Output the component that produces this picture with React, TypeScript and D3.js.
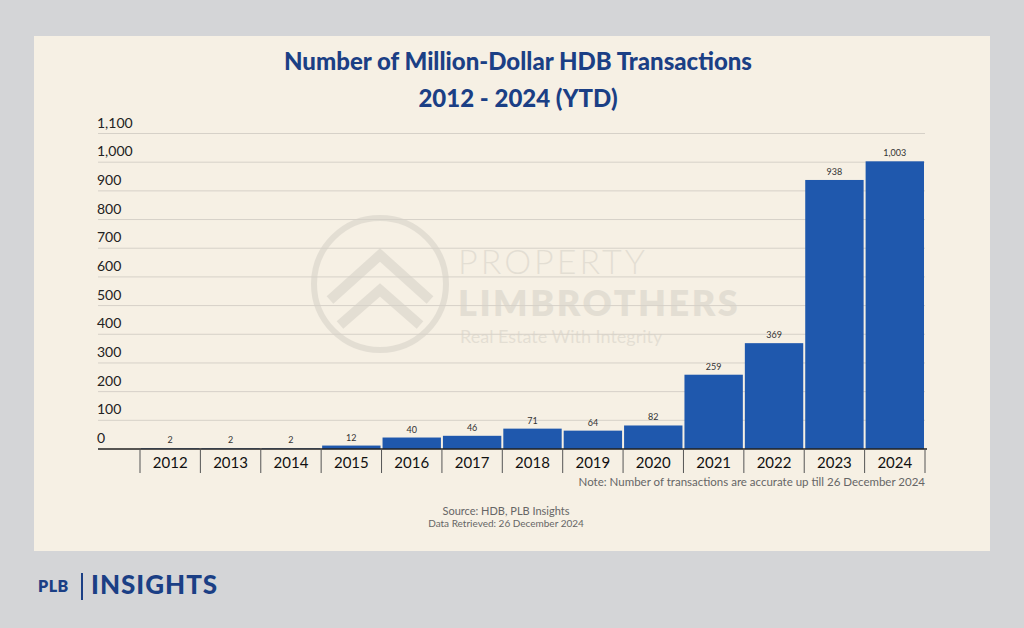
import React from "react";
import * as d3 from "d3";

const years = ["2012","2013","2014","2015","2016","2017","2018","2019","2020","2021","2022","2023","2024"];
const counts = [2,2,2,12,40,46,71,64,82,259,369,938,1003];
const yTicks = [0,100,200,300,400,500,600,700,800,900,1000,1100];

const W = 1024, H = 628;
const NAVY = "#1b3f85";
const BLUE = "#1f58ad";

export default function App() {
  const x = d3.scaleBand<string>().domain(years).range([140, 925]).paddingInner(0);
  const y = d3.scaleLinear().domain([0, 1100]).range([449, 133.5]);
  const fmt = d3.format(",");
  const font = "'Lato', 'Open Sans', sans-serif";
  return (
    <svg width={W} height={H} style={{ position: "absolute", left: 0, top: 0, display: "block" }}>
      <rect x={0} y={0} width={W} height={H} fill="#d4d5d7" />
      <rect x={34} y={36} width={956} height={515} fill="#f6f0e4" />
      {/* watermark */}
      <g opacity={0.11} fill="none" stroke="#555">
        <circle cx={380} cy={284} r={66} strokeWidth={6} />
        <path d={`M330,300 L380,255 L430,300`} strokeWidth={10} />
        <path d={`M340,325 L380,290 L420,325`} strokeWidth={10} />
      </g>
      <g opacity={0.11} fill="#555" fontFamily={font}>
        <text x={458} y={274} fontSize={34} fontWeight={300} letterSpacing={3}>PROPERTY</text>
        <text x={458} y={316} fontSize={36} fontWeight={800} letterSpacing={2.5}>LIMBROTHERS</text>
        <text x={460} y={343} fontSize={18}>Real Estate With Integrity</text>
      </g>
      {/* title */}
      <text x={518} y={70} textAnchor="middle" fontFamily={font} fontWeight={900} fontSize={24} fill={NAVY}>Number of Million-Dollar HDB Transactions</text>
      <text x={518} y={107} textAnchor="middle" fontFamily={font} fontWeight={900} fontSize={24} fill={NAVY}>2012 - 2024 (YTD)</text>
      {/* gridlines and y labels */}
      {yTicks.map(t => (
        <g key={t}>
          {t > 0 && <line x1={98} x2={925} y1={y(t)} y2={y(t)} stroke="#d6d1c8" strokeWidth={1} />}
          <text x={97} y={y(t) - 6} fontFamily={font} fontSize={14} fill="#222">{fmt(t)}</text>
        </g>
      ))}
      {/* bars */}
      {years.map((yr, i) => (
        <g key={yr}>
          <rect x={(x(yr) as number) + 1} y={y(counts[i])} width={x.bandwidth() - 2} height={449 - y(counts[i])} fill={BLUE} />
          <text x={(x(yr) as number) + x.bandwidth() / 2} y={y(counts[i]) - 5} textAnchor="middle" fontFamily={font} fontSize={9} fill="#333">{fmt(counts[i])}</text>
        </g>
      ))}
      {/* x axis */}
      <line x1={98} x2={927} y1={449} y2={449} stroke="#222" strokeWidth={1.5} />
      {years.map(yr => (
        <line key={"t" + yr} x1={x(yr) as number} x2={x(yr) as number} y1={449} y2={473} stroke="#555" strokeWidth={1} />
      ))}
      <line x1={925} x2={925} y1={449} y2={473} stroke="#555" strokeWidth={1} />
      {years.map(yr => (
        <text key={"l" + yr} x={(x(yr) as number) + x.bandwidth() / 2} y={468} textAnchor="middle" fontFamily={font} fontSize={15} fill="#111">{yr}</text>
      ))}
      <text x={925} y={486} textAnchor="end" fontFamily={font} fontSize={11.5} fill="#666">Note: Number of transactions are accurate up till 26 December 2024</text>
      <text x={506} y={515} textAnchor="middle" fontFamily={font} fontSize={11} fill="#666">Source: HDB, PLB Insights</text>
      <text x={506} y={527} textAnchor="middle" fontFamily={font} fontSize={10} fill="#666">Data Retrieved: 26 December 2024</text>
      {/* logo */}
      <text x={38} y={592} fontFamily={font} fontWeight={800} fontSize={16} fill={NAVY} letterSpacing={0.5}>PLB</text>
      <line x1={82} x2={82} y1={573} y2={600} stroke={NAVY} strokeWidth={2} />
      <text x={91} y={594} fontFamily={font} fontWeight={900} fontSize={26} fill={NAVY} letterSpacing={1}>INSIGHTS</text>
    </svg>
  );
}
